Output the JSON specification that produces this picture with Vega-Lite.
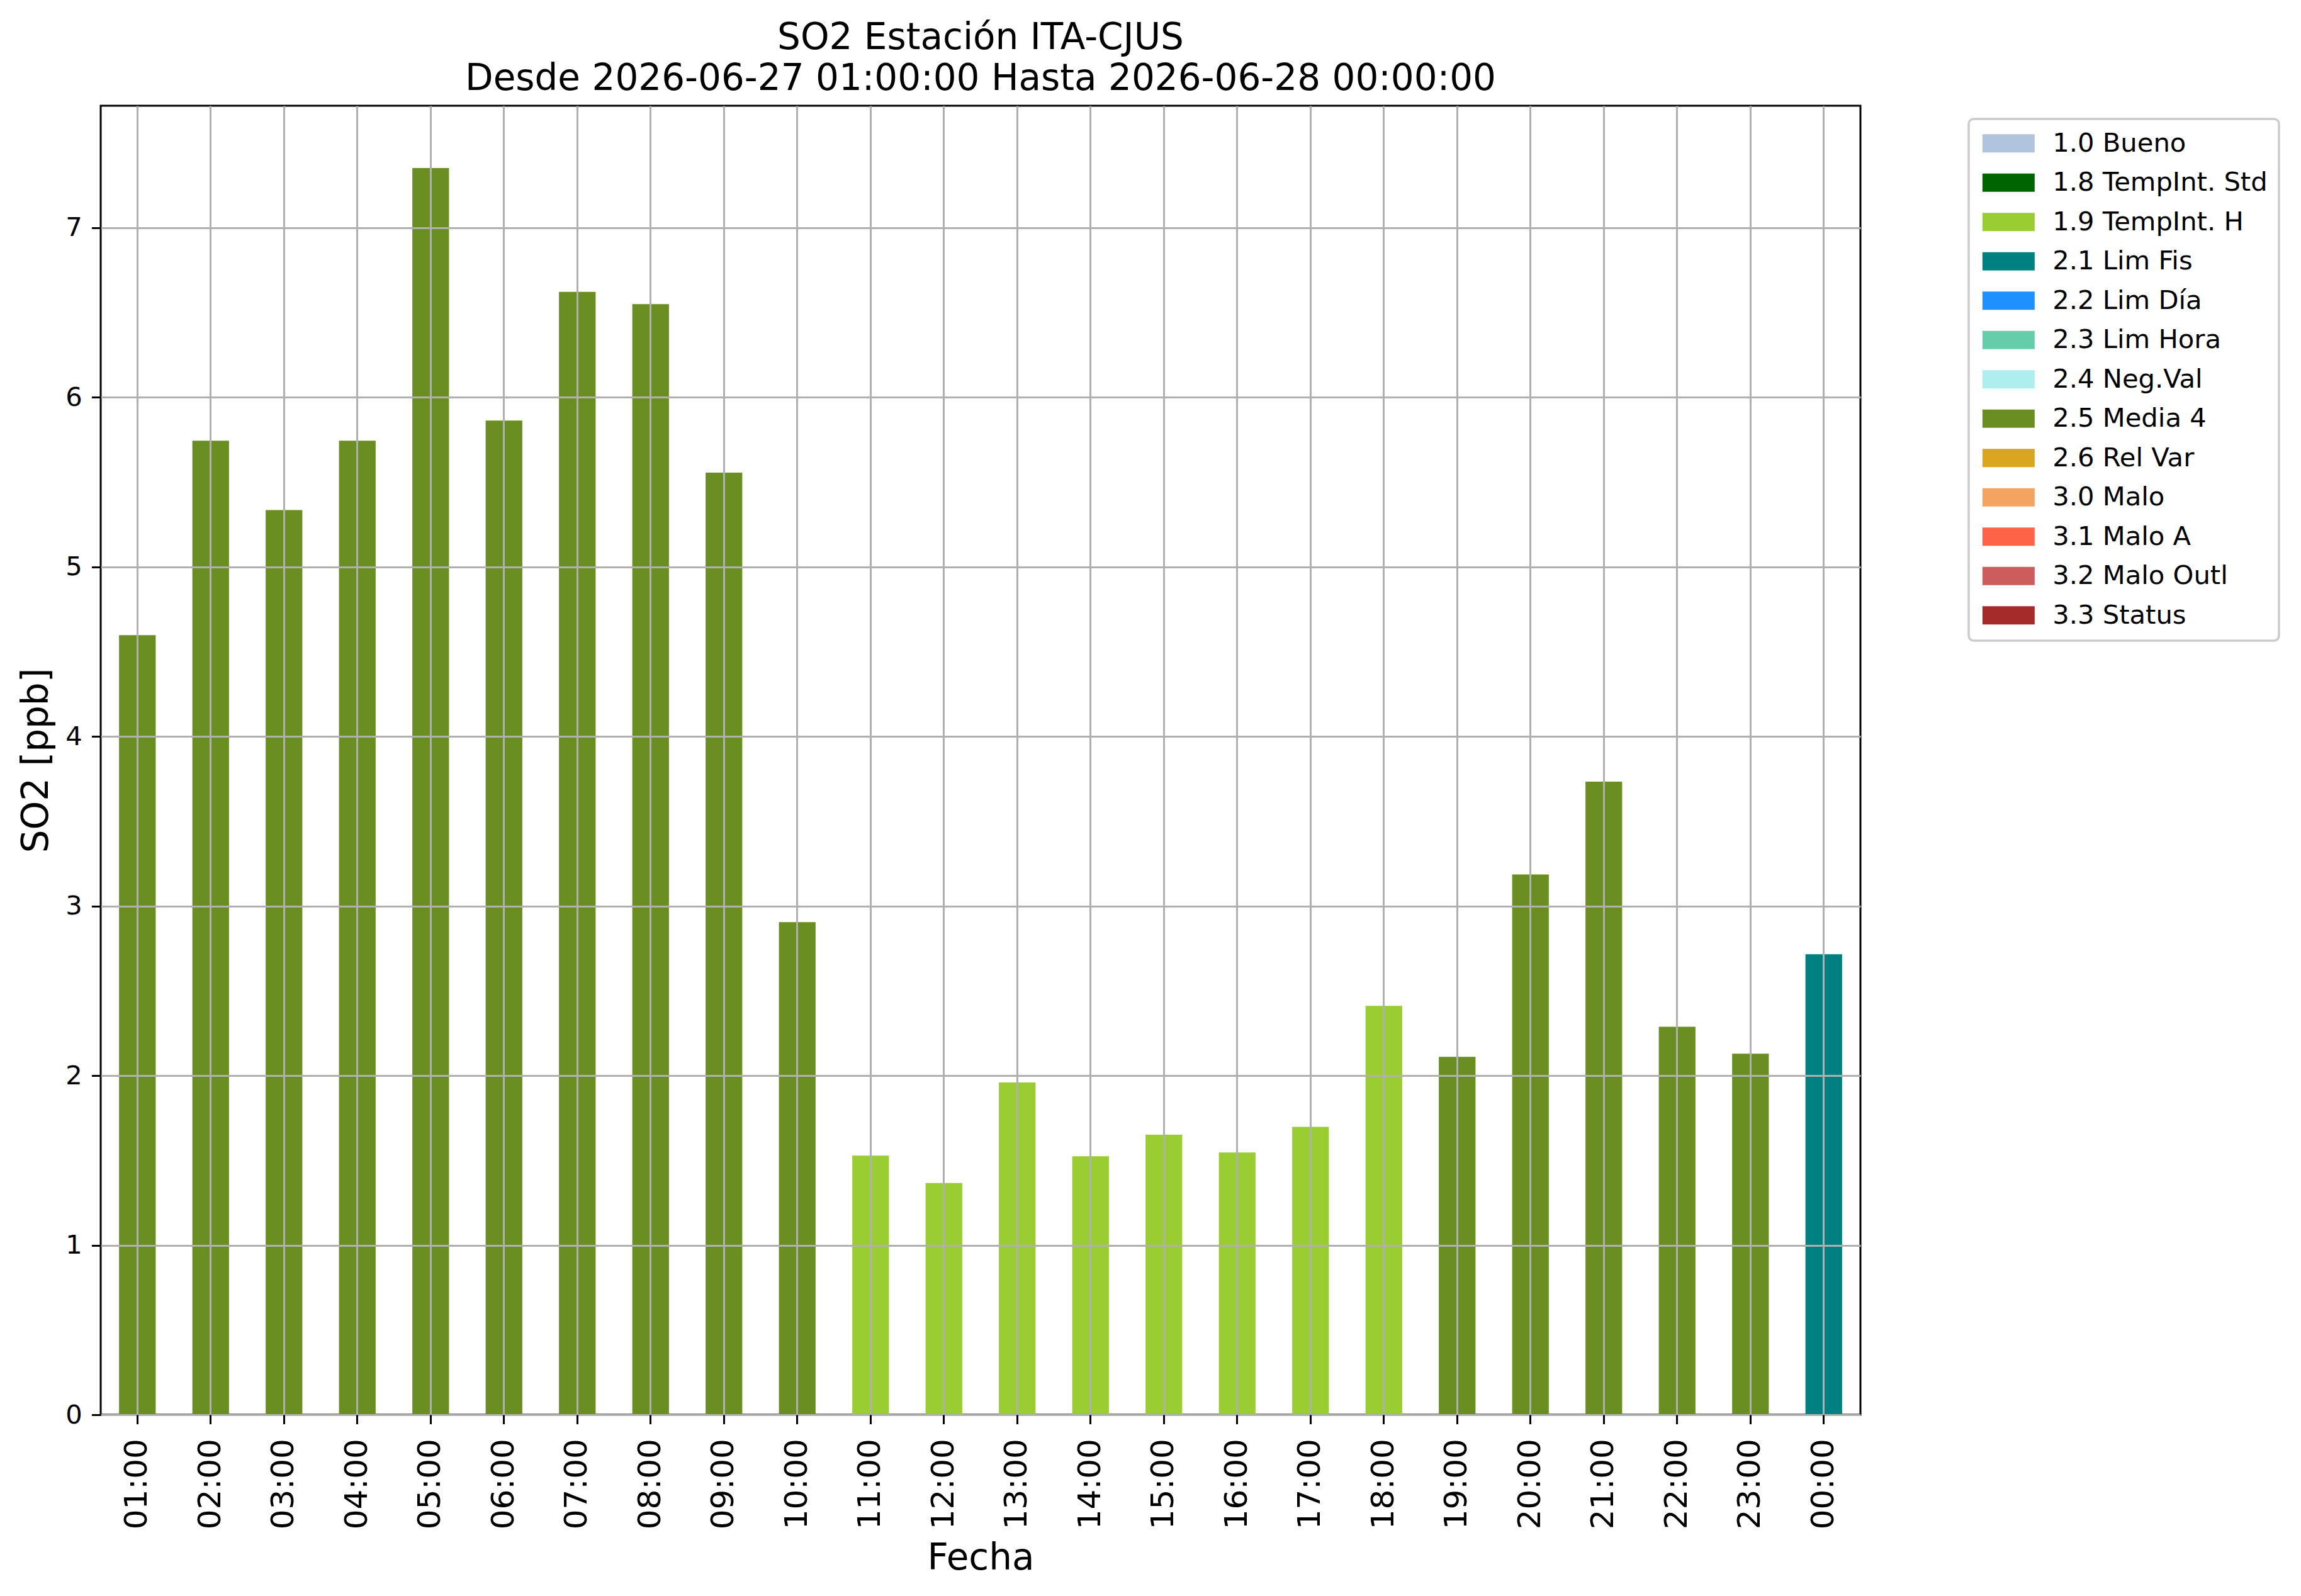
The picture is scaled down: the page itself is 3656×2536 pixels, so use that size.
{
  "$schema": "https://vega.github.io/schema/vega-lite/v6.json",
  "width": 2796,
  "height": 2080,
  "autosize": {"type": "none"},
  "padding": {"left": 160, "top": 168, "right": 700, "bottom": 288},
  "background": "white",
  "title": {
    "text": ["SO2 Estación ITA-CJUS", "Desde 2026-06-27 01:00:00 Hasta 2026-06-28 00:00:00"],
    "font": "DejaVu Sans",
    "fontSize": 58,
    "fontWeight": "normal",
    "color": "black",
    "lineHeight": 65,
    "baseline": "alphabetic",
    "anchor": "middle",
    "offset": -33
  },
  "data": {
    "values": [
      {"hora": "01:00", "so2": 4.597, "flag": "2.5 Media 4"},
      {"hora": "02:00", "so2": 5.744, "flag": "2.5 Media 4"},
      {"hora": "03:00", "so2": 5.335, "flag": "2.5 Media 4"},
      {"hora": "04:00", "so2": 5.744, "flag": "2.5 Media 4"},
      {"hora": "05:00", "so2": 7.352, "flag": "2.5 Media 4"},
      {"hora": "06:00", "so2": 5.863, "flag": "2.5 Media 4"},
      {"hora": "07:00", "so2": 6.621, "flag": "2.5 Media 4"},
      {"hora": "08:00", "so2": 6.549, "flag": "2.5 Media 4"},
      {"hora": "09:00", "so2": 5.555, "flag": "2.5 Media 4"},
      {"hora": "10:00", "so2": 2.905, "flag": "2.5 Media 4"},
      {"hora": "11:00", "so2": 1.528, "flag": "1.9 TempInt. H"},
      {"hora": "12:00", "so2": 1.367, "flag": "1.9 TempInt. H"},
      {"hora": "13:00", "so2": 1.959, "flag": "1.9 TempInt. H"},
      {"hora": "14:00", "so2": 1.524, "flag": "1.9 TempInt. H"},
      {"hora": "15:00", "so2": 1.651, "flag": "1.9 TempInt. H"},
      {"hora": "16:00", "so2": 1.547, "flag": "1.9 TempInt. H"},
      {"hora": "17:00", "so2": 1.698, "flag": "1.9 TempInt. H"},
      {"hora": "18:00", "so2": 2.411, "flag": "1.9 TempInt. H"},
      {"hora": "19:00", "so2": 2.111, "flag": "2.5 Media 4"},
      {"hora": "20:00", "so2": 3.186, "flag": "2.5 Media 4"},
      {"hora": "21:00", "so2": 3.733, "flag": "2.5 Media 4"},
      {"hora": "22:00", "so2": 2.288, "flag": "2.5 Media 4"},
      {"hora": "23:00", "so2": 2.129, "flag": "2.5 Media 4"},
      {"hora": "00:00", "so2": 2.716, "flag": "2.1 Lim Fis"}
    ]
  },
  "mark": {"type": "bar"},
  "encoding": {
    "x": {
      "field": "hora",
      "type": "nominal",
      "sort": null,
      "scale": {"paddingInner": 0.5, "paddingOuter": 0.25},
      "axis": {
        "title": "Fecha",
        "titleFont": "DejaVu Sans",
        "titleFontSize": 58,
        "titleFontWeight": "normal",
        "titleColor": "black",
        "titlePadding": 18,
        "labelAngle": 270,
        "labelFont": "DejaVu Sans",
        "labelFontSize": 50,
        "labelColor": "black",
        "labelPadding": 23,
        "tickSize": 14.6,
        "tickWidth": 3,
        "tickColor": "black",
        "domain": false,
        "grid": true,
        "gridColor": "#b0b0b0",
        "gridWidth": 3,
        "bandPosition": 0.5,
        "zindex": 1
      }
    },
    "y": {
      "field": "so2",
      "type": "quantitative",
      "scale": {"domain": [0, 7.719], "nice": false, "zero": true},
      "axis": {
        "title": "SO2 [ppb]",
        "titleFont": "DejaVu Sans",
        "titleFontSize": 58,
        "titleFontWeight": "normal",
        "titleColor": "black",
        "titlePadding": 16,
        "values": [0, 1, 2, 3, 4, 5, 6, 7],
        "format": "d",
        "labelFont": "DejaVu Sans",
        "labelFontSize": 41.7,
        "labelColor": "black",
        "labelPadding": 15,
        "tickSize": 14.6,
        "tickWidth": 3,
        "tickColor": "black",
        "domain": false,
        "grid": true,
        "gridColor": "#b0b0b0",
        "gridWidth": 3,
        "zindex": 1
      }
    },
    "color": {
      "field": "flag",
      "type": "nominal",
      "scale": {
        "domain": ["1.0 Bueno", "1.8 TempInt. Std", "1.9 TempInt. H", "2.1 Lim Fis", "2.2 Lim Día", "2.3 Lim Hora", "2.4 Neg.Val", "2.5 Media 4", "2.6 Rel Var", "3.0 Malo", "3.1 Malo A", "3.2 Malo Outl", "3.3 Status"],
        "range": ["#b0c4de", "#006400", "#9acd32", "#008080", "#1e90ff", "#66cdaa", "#afeeee", "#6b8e23", "#daa520", "#f4a460", "#ff6347", "#cd5c5c", "#a52a2a"]
      },
      "legend": {
        "title": null,
        "orient": "none",
        "legendX": 2968,
        "legendY": 21,
        "symbolType": "M-2.441,-0.853H2.441V0.853H-2.441Z",
        "symbolSize": 1156,
        "symbolOffset": 24.5,
        "symbolStrokeWidth": 0,
        "symbolOpacity": 1,
        "labelFont": "DejaVu Sans",
        "labelFontSize": 41.7,
        "labelColor": "black",
        "labelOffset": 49,
        "labelLimit": 0,
        "rowPadding": 19.5,
        "padding": 18,
        "strokeColor": "#cccccc",
        "fillColor": "white",
        "cornerRadius": 8
      }
    }
  },
  "config": {
    "view": {"stroke": "black", "strokeWidth": 3},
    "legend": {"strokeWidth": 3.5}
  }
}
